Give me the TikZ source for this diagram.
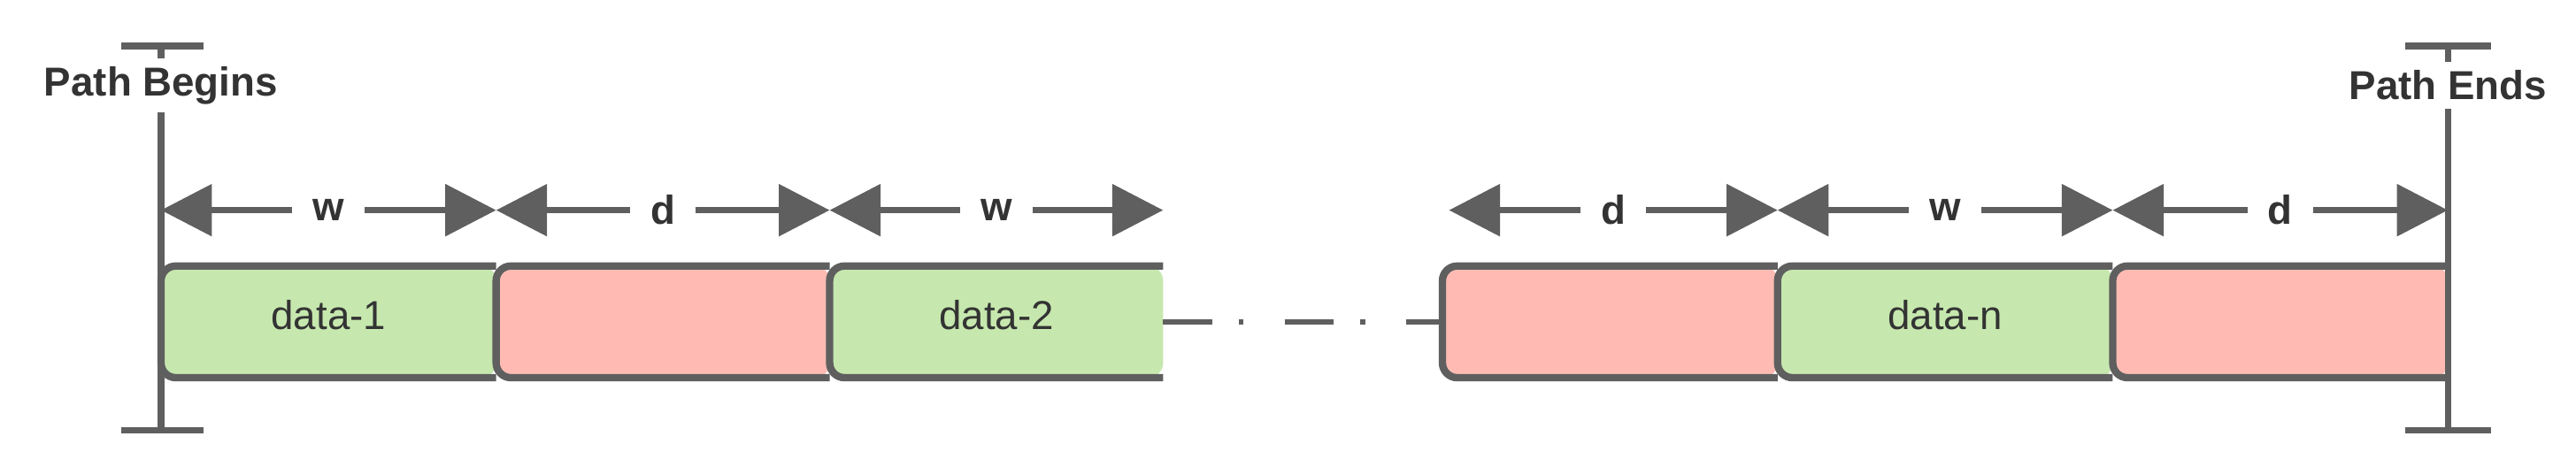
\documentclass[tikz,border=0pt]{standalone}
\usepackage{fontspec}
\setmainfont{Liberation Sans}
\usetikzlibrary{arrows.meta}
\definecolor{edgegray}{HTML}{5F5F5F}
\definecolor{datagreen}{HTML}{C6E8AE}
\definecolor{gapred}{HTML}{FFBBB3}
\definecolor{textgray}{HTML}{333333}
\tikzset{
  boxline/.style={draw=edgegray, line width=0.09cm, rounded corners=0.18cm},
  dimline/.style={draw=edgegray, line width=0.08cm, {Triangle[length=0.62cm,width=0.62cm]}-{Triangle[length=0.62cm,width=0.62cm]}},
  dimlabel/.style={fill=white, text=textgray, font=\fontsize{14}{16}\selectfont\bfseries, inner sep=0.25cm},
  boxlabel/.style={text=textgray, font=\fontsize{14}{16}\selectfont},
  pathlabel/.style={text=textgray, font=\fontsize{14}{16}\selectfont\bfseries},
  wall/.style={draw=edgegray, line width=0.08cm}
}
\begin{document}
\begin{tikzpicture}[x=0.02cm, y=-0.02cm]
	\useasboundingbox (0,0) rectangle (1568,284);
	
	%% segments: left x, right x, colour, label
	\foreach \xa/\xb/\col/\txt/\nm in {98/302/datagreen/data-1/sa, 302/505/gapred//sb, 505/708/datagreen/data-2/sc,
	    878/1082/gapred//sd, 1082/1286/datagreen/data-n/se, 1286/1490/gapred//sf}{
		\fill [\col, rounded corners=0.18cm] (\xb,162) -- (\xa,162) -- (\xa,230) -- (\xb,230) -- cycle;
		\draw [boxline] (\xb,162) -- (\xa,162) -- (\xa,230) -- (\xb,230);
		\node [boxlabel] (\nm) at ({(\xa+\xb)/2},192) {\txt};
	}
	
	%% gap between data-2 and the last segments
	\coordinate (gapL) at (708,196);
	\coordinate (gapR) at (878,196);
	\draw [edgegray, line width=0.07cm, dash pattern=on 0.6cm off 0.32cm on 0.06cm off 0.5cm] (gapL) -- (gapR);
	
	%% path ends
	\coordinate (beginTop) at (98,28);
	\coordinate (beginBot) at (98,262);
	\coordinate (endTop) at (1490,28);
	\coordinate (endBot) at (1490,262);
	\draw [wall] (beginTop) -- (beginBot);
	\draw [wall] (74,28) -- (124,28);
	\draw [wall] (74,262) -- (124,262);
	\draw [wall] (endTop) -- (endBot);
	\draw [wall] (1464,28) -- (1516,28);
	\draw [wall] (1464,262) -- (1516,262);
	\node [pathlabel, fill=white, inner sep=0.1cm] (begins) at (98,52) {Path Begins};
	\node [pathlabel, fill=white, inner sep=0.1cm] (ends) at (1490,52) {Path Ends};
	
	%% dimensions
	\foreach \xa/\xb/\txt/\nm in {98/302/w/da, 302/505/d/db, 505/708/w/dc, 882/1082/d/dd, 1082/1286/w/de, 1286/1490/d/df}{
		\coordinate (\nm-l) at (\xa,128);
		\coordinate (\nm-r) at (\xb,128);
		\draw [dimline] (\nm-l) -- (\nm-r) node [midway, dimlabel] {\txt};
	}

\end{tikzpicture}
\end{document}
